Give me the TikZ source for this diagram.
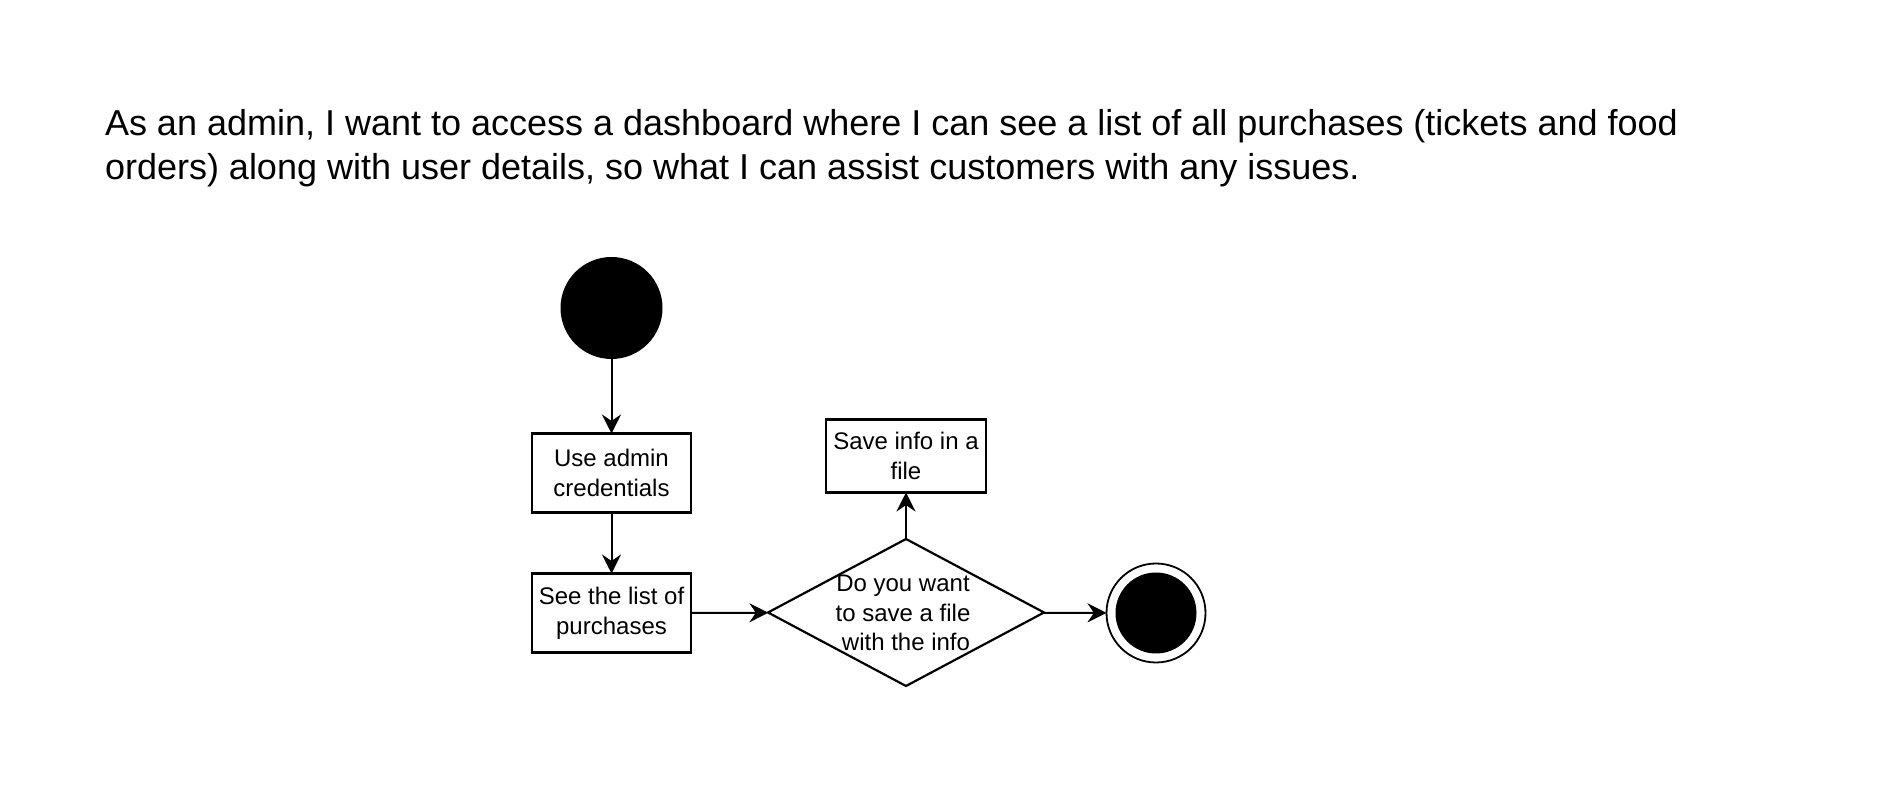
\documentclass[tikz,border=0pt]{standalone}
\usepackage{fontspec}
\setmainfont{Liberation Sans}
\usetikzlibrary{shapes.geometric,arrows.meta}
\begin{document}
\begin{tikzpicture}[x=0.5pt,y=-0.5pt,
  every node/.style={inner sep=0pt,outer sep=0pt},
  lbl/.style={font=\fontsize{12pt}{14.8pt}\selectfont,align=center},
  actbox/.style={draw,line width=1.1pt,minimum width=79.5pt,minimum height=39.5pt},
  dia/.style={draw,diamond,line width=1.1pt,minimum width=138pt,minimum height=73.5pt},
  startdot/.style={circle,fill=black},
  conn/.style={line width=1pt,-{Stealth[length=9.5pt,width=9.5pt,inset=3.2pt]}}
]
\useasboundingbox (0,0) rectangle (1880,790);
\node[anchor=base west,align=left,font=\fontsize{18pt}{21.75pt}\selectfont] (title) at (105,179.5)
  {As an admin, I want to access a dashboard where I can see a list of all purchases (tickets and food\\
   orders) along with user details, so what I can assist customers with any issues.};
\node[startdot,minimum size=51pt] (start) at (611.5,308) {};
\node[actbox,lbl] (cred) at (611.5,473) {Use admin\\credentials};
\node[actbox,lbl] (list) at (611.5,613) {See the list of\\purchases};
\node[dia] (dec) at (906,612.5) {};
\node[lbl,font=\fontsize{12pt}{14.9pt}\selectfont] (dectext) at (903,613) {Do you want\\to save a file\\\hspace*{3pt}with the info};
\node[actbox,lbl,minimum width=80pt,minimum height=36.5pt] (save) at (906,456) {Save info in a\\file};
\node[circle,draw,line width=0.9pt,minimum size=49.5pt] (end) at (1156,613) {};
\node[circle,fill=black,minimum size=40.5pt] (endin) at (end.center) {};
\draw[conn] (start) -- (cred);
\draw[conn] (cred) -- (list);
\draw[conn] (list) -- (dec);
\draw[conn] (dec) -- (save);
\draw[conn] (dec) -- (end);
\end{tikzpicture}
\end{document}
